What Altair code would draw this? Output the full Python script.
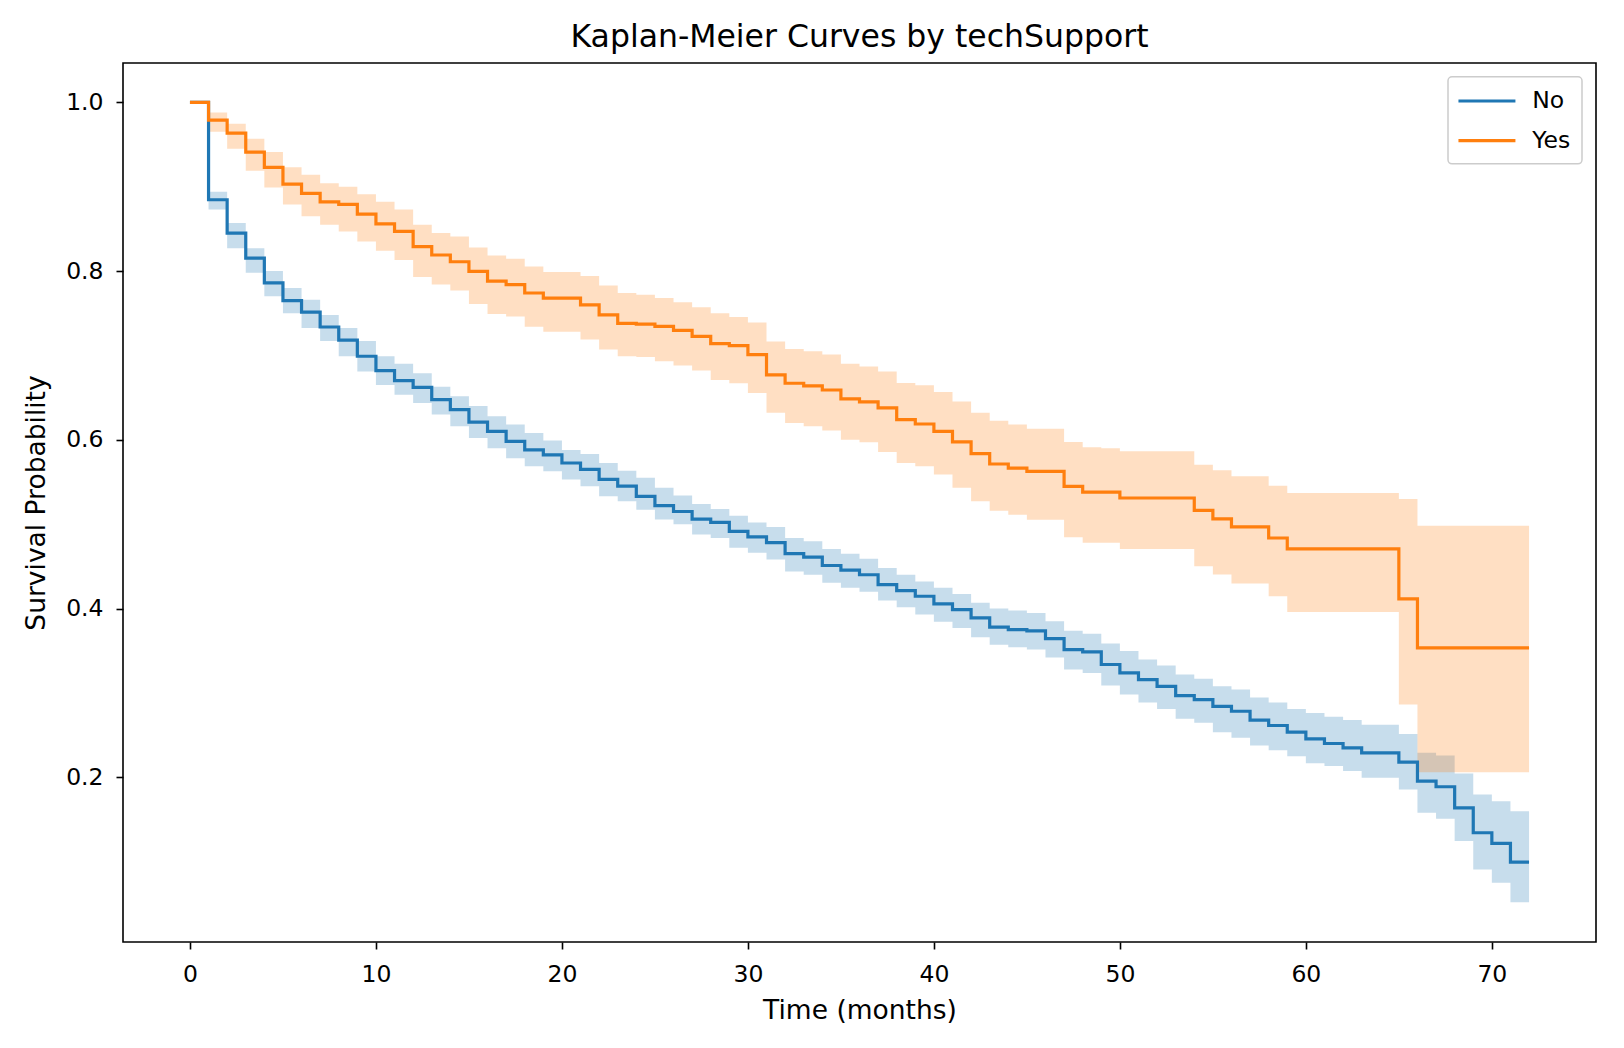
import altair as alt
import pandas as pd

# Kaplan-Meier estimates by techSupport, one value per month (step-after)
months = list(range(0, 73))
groups = ["No", "Yes"]
colors = ["#1f77b4", "#ff7f0e"]

no_surv = [1.0, 0.8845, 0.845, 0.8154, 0.786, 0.765, 0.7514, 0.7337, 0.718, 0.699,
           0.682, 0.670, 0.662, 0.6475, 0.6357, 0.621, 0.610, 0.598, 0.588, 0.582,
           0.5725, 0.565, 0.553, 0.545, 0.533, 0.522, 0.515, 0.506, 0.502, 0.4915,
           0.485, 0.478, 0.465, 0.461, 0.451, 0.4454, 0.440, 0.4283, 0.4213, 0.4145,
           0.4055, 0.3987, 0.389, 0.378, 0.375, 0.3735, 0.3644, 0.3513, 0.3486, 0.3336,
           0.3237, 0.3158, 0.3078, 0.2968, 0.292, 0.2841, 0.2782, 0.2676, 0.2613, 0.2534,
           0.2455, 0.240, 0.2349, 0.2289, 0.2289, 0.2178, 0.1954, 0.1887, 0.1638, 0.1342,
           0.1215, 0.0993, 0.0993]
no_upper = [1.0, 0.894, 0.857, 0.827, 0.800, 0.780, 0.766, 0.748, 0.7325, 0.717,
            0.699, 0.690, 0.679, 0.663, 0.6515, 0.640, 0.628, 0.618, 0.608, 0.599,
            0.588, 0.583, 0.5725, 0.5634, 0.555, 0.543, 0.534, 0.524, 0.518, 0.510,
            0.502, 0.4967, 0.4836, 0.4797, 0.4706, 0.465, 0.459, 0.448, 0.440, 0.432,
            0.4245, 0.4173, 0.4068, 0.400, 0.3976, 0.3948, 0.385, 0.3735, 0.370, 0.3585,
            0.3495, 0.3395, 0.3325, 0.3218, 0.3167, 0.3078, 0.304, 0.2946, 0.2887, 0.2808,
            0.276, 0.2717, 0.2677, 0.2622, 0.2622, 0.2511, 0.229, 0.2257, 0.2045, 0.1795,
            0.1716, 0.1598, 0.1598]
no_lower = [1.0, 0.873, 0.827, 0.798, 0.770, 0.750, 0.7325, 0.717, 0.699, 0.681,
            0.665, 0.6535, 0.6436, 0.630, 0.616, 0.602, 0.590, 0.578, 0.5685, 0.5627,
            0.553, 0.545, 0.533, 0.527, 0.517, 0.5055, 0.4998, 0.4876, 0.4836, 0.472,
            0.466, 0.458, 0.444, 0.440, 0.4304, 0.4245, 0.420, 0.4094, 0.4015, 0.3928,
            0.3842, 0.377, 0.366, 0.357, 0.354, 0.3513, 0.342, 0.3276, 0.3236, 0.3087,
            0.298, 0.2887, 0.281, 0.2693, 0.2645, 0.2534, 0.2467, 0.2376, 0.232, 0.225,
            0.2165, 0.2133, 0.2073, 0.1993, 0.1993, 0.1855, 0.1578, 0.1507, 0.1243, 0.0906,
            0.075, 0.0519, 0.0519]

yes_surv = [1.0, 0.979, 0.9635, 0.941, 0.9228, 0.903, 0.892, 0.882, 0.879, 0.8675,
            0.856, 0.847, 0.829, 0.819, 0.811, 0.7995, 0.788, 0.784, 0.774, 0.768,
            0.768, 0.760, 0.748, 0.738, 0.737, 0.7345, 0.7296, 0.7225, 0.714, 0.7115,
            0.701, 0.677, 0.667, 0.664, 0.659, 0.6484, 0.645, 0.6377, 0.6238, 0.6187,
            0.610, 0.5974, 0.5835, 0.5713, 0.5665, 0.5626, 0.5626, 0.5448, 0.538, 0.538,
            0.531, 0.531, 0.531, 0.531, 0.5164, 0.5062, 0.4968, 0.4968, 0.4836, 0.4706,
            0.4706, 0.4706, 0.4706, 0.4706, 0.4706, 0.4114, 0.3533, 0.3533, 0.3533, 0.3533,
            0.3533, 0.3533, 0.3533]
yes_upper = [1.0, 0.988, 0.9745, 0.9567, 0.941, 0.923, 0.914, 0.904, 0.900, 0.891,
             0.882, 0.873, 0.855, 0.845, 0.841, 0.828, 0.8185, 0.8146, 0.8055, 0.799,
             0.799, 0.794, 0.783, 0.774, 0.772, 0.768, 0.763, 0.757, 0.750, 0.7455,
             0.739, 0.7166, 0.7076, 0.705, 0.701, 0.690, 0.687, 0.681, 0.6673, 0.6646,
             0.6566, 0.6455, 0.632, 0.6226, 0.618, 0.613, 0.613, 0.5974, 0.591, 0.590,
             0.5863, 0.5863, 0.5863, 0.5863, 0.5705, 0.5638, 0.5567, 0.5567, 0.5456, 0.537,
             0.537, 0.537, 0.537, 0.537, 0.537, 0.5298, 0.4982, 0.4982, 0.4982, 0.4982,
             0.4982, 0.4982, 0.4982]
yes_lower = [1.0, 0.965, 0.945, 0.919, 0.899, 0.879, 0.865, 0.855, 0.847, 0.835,
             0.824, 0.813, 0.793, 0.784, 0.777, 0.761, 0.749, 0.746, 0.734, 0.728,
             0.728, 0.719, 0.707, 0.699, 0.698, 0.693, 0.688, 0.682, 0.671, 0.667,
             0.6555, 0.632, 0.620, 0.616, 0.611, 0.600, 0.597, 0.5855, 0.5725, 0.5685,
             0.5587, 0.543, 0.527, 0.516, 0.511, 0.5053, 0.5053, 0.4845, 0.478, 0.478,
             0.4706, 0.4706, 0.4706, 0.4706, 0.450, 0.4402, 0.4295, 0.4295, 0.4145, 0.396,
             0.396, 0.396, 0.396, 0.396, 0.396, 0.2862, 0.2059, 0.2059, 0.2059, 0.2059,
             0.2059, 0.2059, 0.2059]

x_ticks = [0, 10, 20, 30, 40, 50, 60, 70]
y_ticks = [0.2, 0.4, 0.6, 0.8, 1.0]

frames = []
for name, surv, lo, hi in [("No", no_surv, no_lower, no_upper),
                           ("Yes", yes_surv, yes_lower, yes_upper)]:
    frames.append(pd.DataFrame({"time": months, "group": name,
                                "surv": surv, "lower": lo, "upper": hi}))
df = pd.concat(frames, ignore_index=True)

FONT = "DejaVu Sans"
W, H = 1473, 879

x_scale = alt.Scale(domain=[-3.6, 75.6], nice=False, zero=False)
y_scale = alt.Scale(domain=[0.0047, 1.0466], nice=False, zero=False)

x_axis = alt.Axis(values=x_ticks, title="Time (months)", format="d")
y_axis = alt.Axis(values=y_ticks, title="Survival Probability", format=".1f")

base = alt.Chart(df)

# 95% confidence bands, one layer per group so the orange band sits on top
bands = [
    base.transform_filter(alt.datum.group == name)
    .mark_area(interpolate="step-after", color=col, fillOpacity=0.25, strokeWidth=0)
    .encode(
        x=alt.X("time:Q", scale=x_scale, axis=x_axis),
        y=alt.Y("lower:Q", scale=y_scale, axis=y_axis),
        y2="upper:Q",
    )
    for name, col in zip(groups, colors)
]

lines = base.mark_line(interpolate="step-after", strokeWidth=3.2).encode(
    x=alt.X("time:Q", scale=x_scale, axis=x_axis),
    y=alt.Y("surv:Q", scale=y_scale, axis=y_axis),
    color=alt.Color(
        "group:N",
        scale=alt.Scale(domain=groups, range=colors),
        legend=alt.Legend(
            title=None, orient="none", legendX=1325, legendY=13.8,
            symbolType="M-1.25,0H3.93", symbolSize=484, symbolStrokeWidth=3.2,
            labelOffset=47, rowPadding=14.6, padding=11.2,
        ),
    ),
)

chart = (
    alt.layer(*bands, lines)
    .properties(
        width=W, height=H,
        autosize=alt.AutoSizeParams(type="none"),
        padding={"left": 123, "top": 63, "right": 28, "bottom": 106},
        title=alt.TitleParams(
            "Kaplan-Meier Curves by techSupport", fontSize=31.5, font=FONT,
            fontWeight="normal", color="black", offset=10, anchor="middle",
        ),
    )
    .configure_view(stroke="black", strokeWidth=1.6)
    .configure_axis(
        grid=False, domain=False, ticks=True, tickColor="black", tickWidth=1.6,
        tickSize=7, labelFont=FONT, labelFontSize=23.5, labelColor="black",
        labelPadding=13, titleFont=FONT, titleFontSize=26.5, titleFontWeight="normal",
        titleColor="black",
    )
    .configure_axisX(titlePadding=12)
    .configure_axisY(titlePadding=15)
    .configure_legend(
        strokeColor="#cccccc", strokeWidth=1.5, cornerRadius=4,
        fillColor="rgba(255,255,255,0.8)", labelFont=FONT, labelFontSize=23.5,
        labelColor="black",
    )
)

chart.save("out.html", embed_options={"renderer": "svg", "actions": False})
